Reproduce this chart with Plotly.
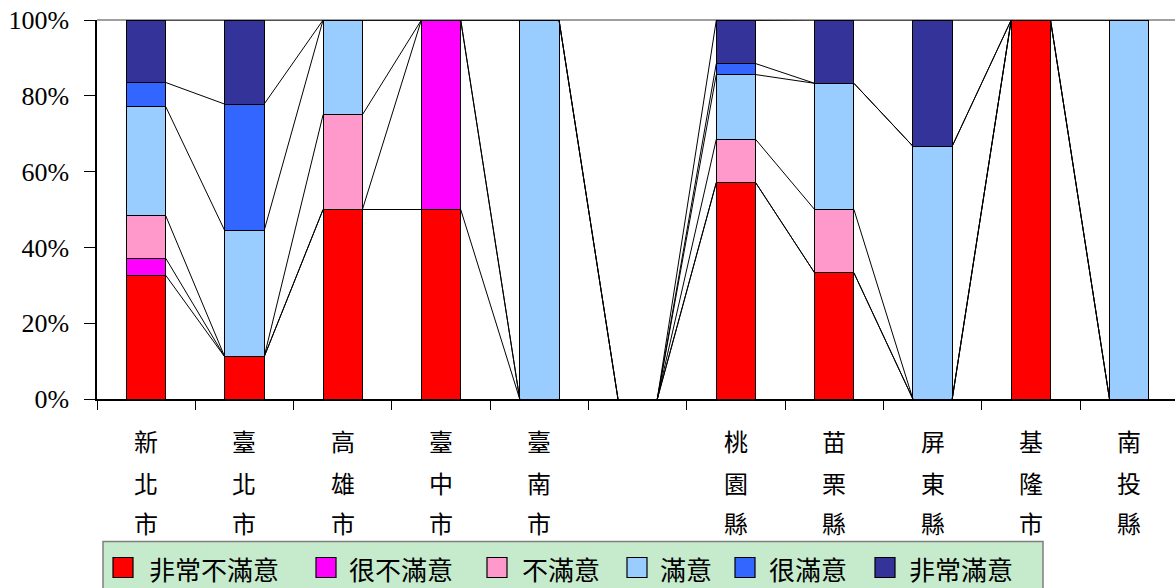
import plotly.graph_objects as go

categories = ["新北市", "臺北市", "高雄市", "臺中市", "臺南市", "", "桃園縣", "苗栗縣", "屏東縣", "基隆市", "南投縣"]
series_names = ["非常不滿意", "很不滿意", "不滿意", "滿意", "很滿意", "非常滿意"]
colors = ["#FF0000", "#FF00FF", "#FF99CC", "#99CCFF", "#3366FF", "#333399"]

very_dissatisfied = [32.6, 11.1, 50.0, 50.0, 0.0, 0.0, 57.1, 33.3, 0.0, 100.0, 0.0]
quite_dissatisfied = [4.5, 0.0, 0.0, 50.0, 0.0, 0.0, 0.0, 0.0, 0.0, 0.0, 0.0]
dissatisfied = [11.2, 0.0, 25.0, 0.0, 0.0, 0.0, 11.4, 16.7, 0.0, 0.0, 0.0]
satisfied = [28.8, 33.3, 25.0, 0.0, 100.0, 0.0, 17.1, 33.3, 66.7, 0.0, 100.0]
quite_satisfied = [6.4, 33.4, 0.0, 0.0, 0.0, 0.0, 2.9, 0.0, 0.0, 0.0, 0.0]
very_satisfied = [16.5, 22.2, 0.0, 0.0, 0.0, 0.0, 11.4, 16.7, 33.3, 0.0, 0.0]

y_ticks = [0, 0.2, 0.4, 0.6, 0.8, 1.0]
y_ticktext = ["0%", "20%", "40%", "60%", "80%", "100%"]

series = [very_dissatisfied, quite_dissatisfied, dissatisfied, satisfied, quite_satisfied, very_satisfied]

W, H = 1175, 588
ML, MT, MB = 97, 20, 189
plot_w = W - ML
plot_h = H - MT - MB
n = len(categories)
cat_px = 98.3
bar_w = 0.4
half = bar_w / 2

fig = go.Figure()
xs = list(range(n))
for name, vals, col in zip(series_names, series, colors):
    fig.add_trace(go.Bar(
        x=xs, y=[v / 100 if v > 0 else None for v in vals], name=name, width=bar_w,
        marker=dict(color=col, line=dict(color="#000000", width=1)),
        showlegend=False,
    ))

# series lines (connect cumulative tops)
cum = [0.0] * n
for vals in series:
    cum = [c + v / 100 for c, v in zip(cum, vals)]
    lx, ly = [], []
    for i in range(n - 1):
        if cum[i] == 0 and cum[i + 1] == 0:
            continue
        lx += [i + half, i + 1 - half, None]
        ly += [cum[i], cum[i + 1], None]
    fig.add_trace(go.Scatter(x=lx, y=ly, mode="lines", line=dict(color="#000000", width=1),
                             showlegend=False, hoverinfo="skip"))

def px2paper_x(px):
    return (px - ML) / plot_w

def px2paper_y(py):
    return (MT + plot_h - py) / plot_h

shapes = []
# top border of plot area
shapes.append(dict(type="line", xref="paper", yref="paper", x0=0, x1=1, y0=1, y1=1,
                   line=dict(color="#a0a0a0", width=2), layer="below"))
# legend box
shapes.append(dict(type="rect", xref="paper", yref="paper",
                   x0=px2paper_x(103), x1=px2paper_x(1043),
                   y0=px2paper_y(592), y1=px2paper_y(541.5),
                   fillcolor="#C6EBCC", line=dict(color="#7f7f7f", width=1.5), layer="above"))

annotations = []
# category labels, vertical characters
row_px = [440, 482, 522]
for i, cat in enumerate(categories):
    for j, ch in enumerate(cat):
        annotations.append(dict(x=i, xref="x", y=0, yref="paper", yshift=-(row_px[j] - (MT + plot_h)),
                                text=ch, showarrow=False, xanchor="center", yanchor="middle",
                                font=dict(family="Noto Sans CJK TC", size=24, color="#000000")))

# manual legend
sq_left = [113, 316, 487, 627, 735, 875]
txt_left = [147, 347, 520, 658, 767, 907]
sq_size = 20
cy = 567.5
for k in range(len(series_names)):
    shapes.append(dict(type="rect", xref="paper", yref="paper",
                       x0=px2paper_x(sq_left[k]), x1=px2paper_x(sq_left[k] + sq_size),
                       y0=px2paper_y(cy + sq_size / 2), y1=px2paper_y(cy - sq_size / 2),
                       fillcolor=colors[k], line=dict(color="#000000", width=1.2), layer="above"))
    annotations.append(dict(x=px2paper_x(txt_left[k]), xref="paper", y=px2paper_y(cy + 1), yref="paper",
                            text=series_names[k], showarrow=False, xanchor="left", yanchor="middle",
                            font=dict(family="Noto Sans CJK TC", size=26, color="#000000")))

fig.update_layout(
    width=W, height=H,
    margin=dict(l=ML, r=0, t=MT, b=MB, pad=0, autoexpand=False),
    paper_bgcolor="#FFFFFF", plot_bgcolor="#FFFFFF",
    barmode="stack", bargap=0.6,
    showlegend=False,
    shapes=shapes, annotations=annotations,
    xaxis=dict(range=[-0.5, n - 0.5 - (n * cat_px - plot_w) / cat_px], showgrid=False, zeroline=False,
               showline=True, linecolor="#000000", linewidth=2, automargin=False,
               tickvals=[i - 0.5 for i in range(n)], ticks="outside", ticklen=9, tickwidth=1.2,
               tickcolor="#000000", showticklabels=False, fixedrange=True),
    yaxis=dict(range=[0, 1], showgrid=False, zeroline=False, showline=True, linecolor="#000000",
               linewidth=1.5, tickvals=y_ticks, ticktext=y_ticktext, ticks="outside", ticklen=11,
               tickwidth=1.2, tickcolor="#000000", ticklabelstandoff=10, automargin=False,
               tickfont=dict(family="Liberation Serif, serif", size=26, color="#000000"),
               fixedrange=True),
)

fig.write_html("out.html", config={"displayModeBar": False},
               post_script="document.body.style.margin='0px';document.body.style.overflow='hidden';")
